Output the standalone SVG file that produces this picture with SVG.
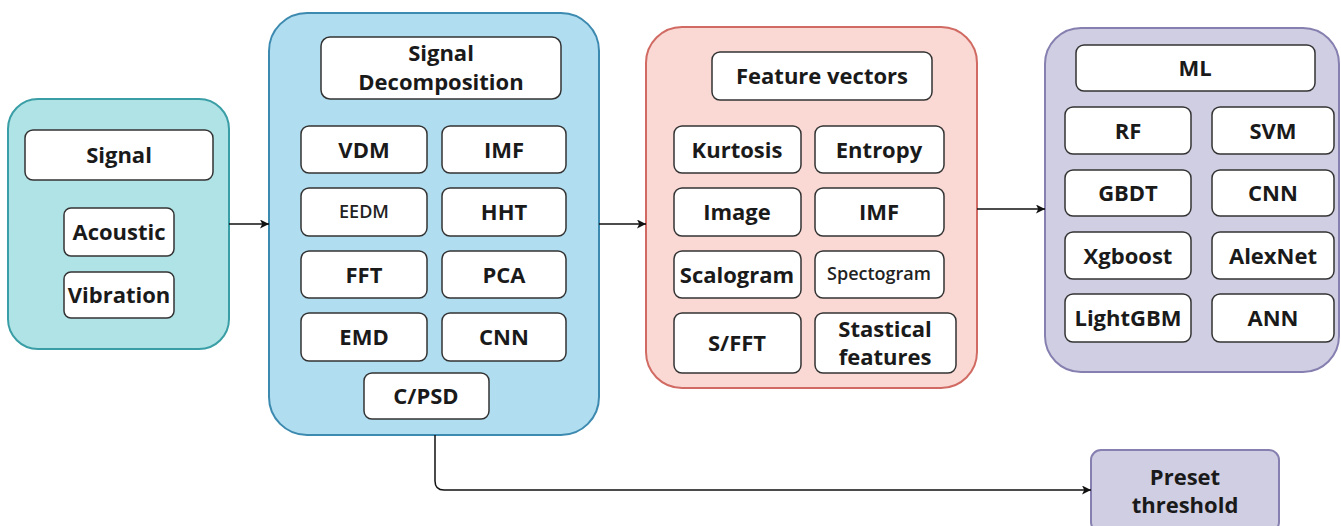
<svg xmlns="http://www.w3.org/2000/svg" width="1341" height="526" viewBox="0 0 1341 526">
<style>
.box{fill:#ffffff;stroke:#333333;stroke-width:1.5}
.t{font-family:"Open Sans","Liberation Sans",sans-serif;font-weight:bold;font-size:22px;fill:#1a1a1a;text-anchor:middle}
.ts{font-family:"Open Sans","Liberation Sans",sans-serif;font-weight:600;font-size:18px;fill:#222222;text-anchor:middle}
.c1{fill:#b0e3e6;stroke:#3a9ea6;stroke-width:2}
.c2{fill:#b1ddf0;stroke:#3d8ab0;stroke-width:2}
.c3{fill:#fad9d5;stroke:#d06a62;stroke-width:2}
.c4{fill:#d0cee2;stroke:#8680b0;stroke-width:2}
.ln{fill:none;stroke:#111111;stroke-width:1.5}
</style>
<defs>
<marker id="ah" viewBox="0 0 10 10" refX="10" refY="5" markerWidth="9" markerHeight="9" markerUnits="userSpaceOnUse" orient="auto">
<path d="M0,0 L10,5 L0,10 L2.5,5 Z" fill="#111111"/>
</marker>
</defs>
<rect width="1341" height="526" fill="#ffffff"/>

<g id="signal">
<rect class="c1" x="8" y="99" width="221" height="250" rx="30"/>
<rect class="box" x="25" y="130" width="188" height="50" rx="8"/>
<text class="t" x="119" y="163">Signal</text>
<rect class="box" x="64" y="208" width="110" height="48" rx="7"/>
<text class="t" x="119" y="240">Acoustic</text>
<rect class="box" x="64" y="272" width="110" height="46" rx="7"/>
<text class="t" x="119" y="303">Vibration</text>
</g>

<g id="decomposition">
<rect class="c2" x="269" y="13" width="330" height="422" rx="38"/>
<rect class="box" x="321" y="37" width="240" height="62" rx="9"/>
<text class="t" x="441" y="61">Signal</text>
<text class="t" x="441" y="90">Decomposition</text>
<rect class="box" x="301" y="126" width="126" height="47" rx="8"/>
<text class="t" x="364" y="158">VDM</text>
<rect class="box" x="442" y="126" width="124" height="47" rx="8"/>
<text class="t" x="504" y="158">IMF</text>
<rect class="box" x="301" y="188" width="126" height="48" rx="8"/>
<text class="ts" x="364" y="218">EEDM</text>
<rect class="box" x="442" y="188" width="124" height="48" rx="8"/>
<text class="t" x="504" y="220">HHT</text>
<rect class="box" x="301" y="251" width="126" height="47" rx="8"/>
<text class="t" x="364" y="283">FFT</text>
<rect class="box" x="442" y="251" width="124" height="47" rx="8"/>
<text class="t" x="504" y="283">PCA</text>
<rect class="box" x="301" y="313" width="126" height="48" rx="8"/>
<text class="t" x="364" y="345">EMD</text>
<rect class="box" x="442" y="313" width="124" height="48" rx="8"/>
<text class="t" x="504" y="345">CNN</text>
<rect class="box" x="364" y="373" width="125" height="46" rx="8"/>
<text class="t" x="426" y="404">C/PSD</text>
</g>

<g id="features">
<rect class="c3" x="646" y="27" width="331" height="361" rx="36"/>
<rect class="box" x="712" y="52" width="220" height="48" rx="8"/>
<text class="t" x="822" y="84">Feature vectors</text>
<rect class="box" x="674" y="126" width="127" height="47" rx="8"/>
<text class="t" x="737" y="158">Kurtosis</text>
<rect class="box" x="815" y="126" width="129" height="47" rx="8"/>
<text class="t" x="879" y="158">Entropy</text>
<rect class="box" x="674" y="188" width="127" height="48" rx="8"/>
<text class="t" x="737" y="220">Image</text>
<rect class="box" x="815" y="188" width="129" height="48" rx="8"/>
<text class="t" x="879" y="220">IMF</text>
<rect class="box" x="674" y="251" width="127" height="47" rx="8"/>
<text class="t" x="737" y="283">Scalogram</text>
<rect class="box" x="815" y="251" width="129" height="47" rx="8"/>
<text class="ts" x="879" y="280">Spectogram</text>
<rect class="box" x="674" y="313" width="127" height="60" rx="8"/>
<text class="t" x="737" y="351">S/FFT</text>
<rect class="box" x="815" y="313" width="141" height="60" rx="8"/>
<text class="t" x="885" y="337">Stastical</text>
<text class="t" x="885" y="365">features</text>
</g>

<g id="ml">
<rect class="c4" x="1045" y="28" width="294" height="344" rx="36"/>
<rect class="box" x="1076" y="45" width="239" height="46" rx="8"/>
<text class="t" x="1195" y="76">ML</text>
<rect class="box" x="1065" y="107" width="126" height="47" rx="8"/>
<text class="t" x="1128" y="139">RF</text>
<rect class="box" x="1212" y="107" width="122" height="47" rx="8"/>
<text class="t" x="1273" y="139">SVM</text>
<rect class="box" x="1065" y="170" width="126" height="46" rx="8"/>
<text class="t" x="1128" y="201">GBDT</text>
<rect class="box" x="1212" y="170" width="122" height="46" rx="8"/>
<text class="t" x="1273" y="201">CNN</text>
<rect class="box" x="1065" y="232" width="126" height="47" rx="8"/>
<text class="t" x="1128" y="264">Xgboost</text>
<rect class="box" x="1212" y="232" width="122" height="47" rx="8"/>
<text class="t" x="1273" y="264">AlexNet</text>
<rect class="box" x="1065" y="294" width="126" height="48" rx="8"/>
<text class="t" x="1128" y="326">LightGBM</text>
<rect class="box" x="1212" y="294" width="122" height="48" rx="8"/>
<text class="t" x="1273" y="326">ANN</text>
</g>

<g id="preset">
<rect class="c4" x="1091" y="450" width="188" height="82" rx="10"/>
<text class="t" x="1185" y="485">Preset</text>
<text class="t" x="1185" y="513">threshold</text>
</g>

<g id="connectors">
<line class="ln" x1="229" y1="224" x2="269" y2="224" marker-end="url(#ah)"/>
<line class="ln" x1="599" y1="224" x2="646" y2="224" marker-end="url(#ah)"/>
<line class="ln" x1="977" y1="209" x2="1045" y2="209" marker-end="url(#ah)"/>
<path class="ln" d="M435,435 V481 Q435,490 444,490 H1091" marker-end="url(#ah)"/>
</g>
</svg>
